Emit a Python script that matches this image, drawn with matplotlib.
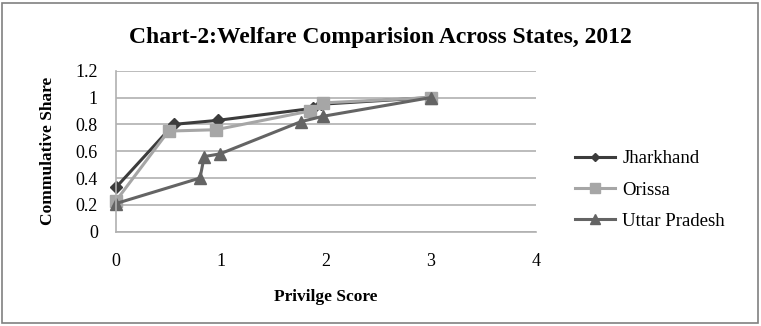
import matplotlib.pyplot as plt

# data
jhX = [0, 0.55, 0.97, 1.88, 1.95, 3]
jhY = [0.33, 0.80, 0.83, 0.92, 0.95, 1.0]
orX = [0, 0.5, 0.95, 1.85, 1.97, 3]
orY = [0.23, 0.75, 0.76, 0.90, 0.96, 1.0]
upX = [0, 0.8, 0.84, 0.99, 1.76, 1.97, 3]
upY = [0.21, 0.40, 0.56, 0.58, 0.82, 0.86, 1.0]

xTicks = [0, 1, 2, 3, 4]
yTicks = [0, 0.2, 0.4, 0.6, 0.8, 1, 1.2]
yLabels = ["0", "0.2", "0.4", "0.6", "0.8", "1", "1.2"]

plt.rcParams["font.family"] = ["Liberation Serif", "DejaVu Serif"]

W, H = 761, 326
fig = plt.figure(figsize=(W / 100, H / 100), dpi=100)
ax = fig.add_axes([116 / W, 1 - 231.7 / H, (536 - 116) / W, (231.7 - 70.7) / H])

# outer border
fig.patches.append(plt.Rectangle((2 / W, 0.01), 1 - 5 / W, 0.98, transform=fig.transFigure,
                                 fill=False, edgecolor="#808080", linewidth=1.2))

ax.plot(jhX, jhY, color="#3c3c3c", marker="D", markersize=6, linewidth=2.2, label="Jharkhand")
ax.plot(orX, orY, color="#a6a6a6", marker="s", markersize=9, linewidth=2.2, label="Orissa")
ax.plot(upX, upY, color="#646464", marker="^", markersize=9, linewidth=2.2, label="Uttar Pradesh")

ax.set_xlim(0, 4)
ax.set_ylim(0, 1.2)
ax.set_xticks(xTicks)
ax.set_yticks(yTicks)
ax.set_yticklabels(yLabels)
ax.tick_params(length=0, labelsize=13)
ax.tick_params(axis="x", pad=15)
ax.tick_params(axis="y", pad=13)
ax.yaxis.grid(True, color="#b0b0b0", linewidth=1.2)
ax.set_axisbelow(True)
for s in ["top", "right"]:
    ax.spines[s].set_visible(False)
for s in ["left", "bottom"]:
    ax.spines[s].set_color("#b0b0b0")
    ax.spines[s].set_linewidth(1.2)
for ln in ax.lines:
    ln.set_clip_on(False)

ax.set_xlabel("Privilge Score", fontsize=12.5, fontweight="bold", labelpad=14)
ax.set_ylabel("Commulative Share", fontsize=12.5, fontweight="bold", labelpad=14)
fig.text(0.5, 1 - 38 / H, "Chart-2:Welfare Comparision Across States, 2012",
         ha="center", va="center", fontsize=17, fontweight="bold")

ax.legend(loc="center left", bbox_to_anchor=(566 / W, 1 - 190 / H),
          bbox_transform=fig.transFigure, frameon=False, fontsize=13.5,
          handlelength=2.1, handletextpad=0.4, labelspacing=0.75,
          borderpad=0, markerscale=0.75)

fig.savefig("out.png", dpi=100)
